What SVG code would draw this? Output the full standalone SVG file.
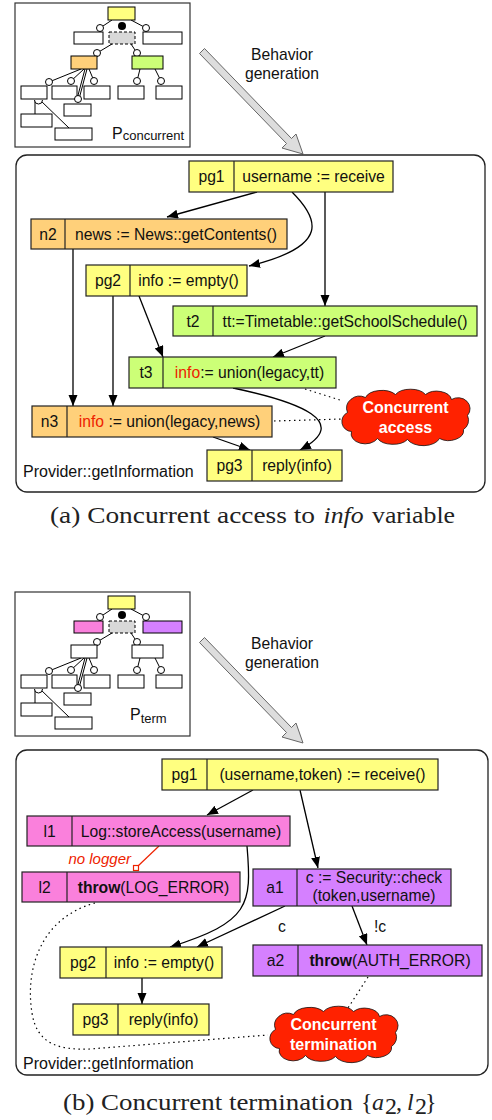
<svg xmlns="http://www.w3.org/2000/svg" xmlns:xlink="http://www.w3.org/1999/xlink" width="492" height="1120" viewBox="0 0 492 1120">
<style>
.t{font-family:"Liberation Sans",Arial,sans-serif;font-size:15.7px;fill:#111;text-anchor:middle}
.lbl{font-family:"Liberation Sans",Arial,sans-serif;font-size:16px;fill:#111}
.cap{font-family:"Liberation Serif","Times New Roman",serif;font-size:24px;fill:#222}
.nb{stroke:#222;stroke-width:1.2}
.y{fill:#ffff80}.o{fill:#ffd07a}.g{fill:#ccff77}.p{fill:#fa80dc}.v{fill:#d580ff}
.e{stroke:#000;stroke-width:1.3;fill:none}
.d{stroke:#000;stroke-width:1.2;fill:none;stroke-dasharray:1.5 3.5}
.tl{stroke:#000;stroke-width:1;fill:none}
.tb{fill:#fff;stroke:#000;stroke-width:1}
.tc{fill:#fff;stroke:#000;stroke-width:1}
.cw{font-family:"Liberation Sans",Arial,sans-serif;font-size:16px;font-weight:bold;fill:#fff;text-anchor:middle}
.red{fill:#ee2200}
</style>
<defs>
<marker id="ah" markerUnits="userSpaceOnUse" markerWidth="12" markerHeight="10" refX="11" refY="4.5" orient="auto">
<path d="M0,0 L11,4.5 L0,9 z" fill="#000"/>
</marker>
<path id="cloud" d="M-58,-4 A13,12 0 0 1 -40,-19 A17,10 0 0 1 -10,-22 A17,10 0 0 1 20,-22 A15,10 0 0 1 46,-17 A12,11 0 0 1 62,-1 A11,11 0 0 1 58,13 A15,10 0 0 1 34,22 A17,10 0 0 1 2,23 A17,10 0 0 1 -28,22 A14,10 0 0 1 -54,15 A10,10 0 0 1 -58,-4 Z" fill="#ff2200" stroke="#111" stroke-width="0.8"/>
<path id="bigArrow" d="M204.5,48.5 L291.5,138.5 L296,134 L303,154 L282,148 L286.5,143.5 L199.5,53.5 Z" fill="#dddddd" stroke="#666" stroke-width="1"/>
<g id="treeBase">
<rect x="15" y="3" width="175" height="144" fill="#fff" stroke="#333" stroke-width="1.2"/>
<line class="tl" x1="112" y1="20" x2="100" y2="28"/>
<line class="tl" x1="131" y1="20" x2="146" y2="28"/>
<rect x="108" y="7" width="27" height="13" class="y" stroke="#000" stroke-width="1"/>
<rect x="109" y="32" width="26" height="12" fill="#d8d8d8" stroke="#000" stroke-width="1" stroke-dasharray="3 2"/>
<line class="tl" x1="112" y1="44" x2="97" y2="53"/>
<line class="tl" x1="131" y1="44" x2="137" y2="53"/>
<line class="tl" x1="81" y1="69" x2="49" y2="82"/>
<line class="tl" x1="84" y1="69" x2="71" y2="81"/>
<line class="tl" x1="85" y1="69" x2="77" y2="99"/>
<line class="tl" x1="87" y1="69" x2="79" y2="99"/>
<line class="tl" x1="89" y1="69" x2="94" y2="81"/>
<line class="tl" x1="140" y1="69" x2="137" y2="81"/>
<line class="tl" x1="155" y1="69" x2="161" y2="81"/>
<line class="tl" x1="35" y1="100" x2="35" y2="114"/>
<line class="tl" x1="40" y1="100" x2="69" y2="128"/>
<rect class="tb" x="21" y="86" width="26" height="13"/>
<rect class="tb" x="52" y="86" width="25" height="13"/>
<rect class="tb" x="84" y="86" width="26" height="13"/>
<rect class="tb" x="118" y="86" width="26" height="13"/>
<rect class="tb" x="156" y="86" width="26" height="13"/>
<rect class="tb" x="64" y="104" width="27" height="12"/>
<rect class="tb" x="21" y="114" width="31" height="13"/>
<rect class="tb" x="55" y="128" width="37" height="12"/>
<circle class="tc" cx="100" cy="28" r="3.5"/>
<circle class="tc" cx="146" cy="28" r="3.5"/>
<circle cx="122" cy="26" r="4" fill="#000"/>
<circle class="tc" cx="97" cy="53" r="3.5"/>
<circle class="tc" cx="137" cy="53" r="3.5"/>
<circle class="tc" cx="49" cy="82" r="3.5"/>
<circle class="tc" cx="71" cy="81" r="3.5"/>
<circle class="tc" cx="94" cy="81" r="3.5"/>
<circle class="tc" cx="137" cy="81" r="3.5"/>
<circle class="tc" cx="161" cy="81" r="3.5"/>
<circle class="tc" cx="78" cy="99" r="3.5"/>
<path d="M34.5,100 A4,4 0 0 0 42.5,100" class="tb"/>
</g>
</defs>

<!-- ===== Panel (a) ===== -->
<g id="treeA">
<use xlink:href="#treeBase"/>
<rect x="74" y="32" width="29" height="12" fill="#fff" stroke="#000"/>
<rect x="143" y="32" width="39" height="12" fill="#fff" stroke="#000"/>
<rect x="71" y="56" width="26" height="13" class="o" stroke="#000"/>
<rect x="132" y="56" width="31" height="13" class="g" stroke="#000"/>
<text x="112" y="139" class="lbl">P<tspan font-size="13" dy="1">concurrent</tspan></text>
</g>
<g id="arrowA">
<use xlink:href="#bigArrow"/>
<text x="282" y="60" class="t">Behavior</text>
<text x="282" y="79" class="t">generation</text>
</g>
<rect x="16" y="155" width="469" height="337" rx="11" fill="none" stroke="#222" stroke-width="1.3"/>
<text x="23" y="477" class="lbl">Provider::getInformation</text>

<g id="connA">
<path class="e" d="M257,192 L167,217" marker-end="url(#ah)"/>
<path class="e" d="M292,192 C318,218 332,246 249,266" marker-end="url(#ah)"/>
<path class="e" d="M325,192 L325,306" marker-end="url(#ah)"/>
<path class="e" d="M139,296 L163,357" marker-end="url(#ah)"/>
<path class="e" d="M325,336 L273,357" marker-end="url(#ah)"/>
<path class="e" d="M73,249 L73,406" marker-end="url(#ah)"/>
<path class="e" d="M113,296 L113,406" marker-end="url(#ah)"/>
<path class="e" d="M213,437 L250,450" marker-end="url(#ah)"/>
<path class="e" d="M233,388 C300,402 352,422 300,450" marker-end="url(#ah)"/>
<path class="d" d="M305,389 L343,401"/>
<path class="d" d="M274,421 L343,419"/>
</g>

<g id="pg1a"><rect x="189" y="161" width="204" height="31" class="y nb"/><line x1="234" y1="161" x2="234" y2="192" class="nb"/>
<text x="211.5" y="182" class="t">pg1</text><text x="313.5" y="182" class="t">username := receive</text></g>
<g id="n2a"><rect x="31" y="219" width="256" height="30" class="o nb"/><line x1="65" y1="219" x2="65" y2="249" class="nb"/>
<text x="48" y="239.5" class="t">n2</text><text x="176" y="239.5" class="t">news := News::getContents()</text></g>
<g id="pg2a"><rect x="86" y="265" width="161" height="31" class="y nb"/><line x1="130" y1="265" x2="130" y2="296" class="nb"/>
<text x="108" y="286" class="t">pg2</text><text x="188.5" y="286" class="t">info := empty()</text></g>
<g id="t2a"><rect x="173" y="306" width="304" height="30" class="g nb"/><line x1="213" y1="306" x2="213" y2="336" class="nb"/>
<text x="193" y="326.5" class="t">t2</text><text x="345" y="326.5" class="t">tt:=Timetable::getSchoolSchedule()</text></g>
<g id="t3a"><rect x="129" y="357" width="207" height="31" class="g nb"/><line x1="163" y1="357" x2="163" y2="388" class="nb"/>
<text x="146" y="378" class="t">t3</text><text x="249.5" y="378" class="t"><tspan class="red">info</tspan>:= union(legacy,tt)</text></g>
<g id="n3a"><rect x="32" y="406" width="240" height="31" class="o nb"/><line x1="67" y1="406" x2="67" y2="437" class="nb"/>
<text x="49.5" y="427" class="t">n3</text><text x="169.5" y="427" class="t"><tspan class="red">info</tspan> := union(legacy,news)</text></g>
<g id="pg3a"><rect x="207" y="450" width="135" height="31" class="y nb"/><line x1="252" y1="450" x2="252" y2="481" class="nb"/>
<text x="229.5" y="471" class="t">pg3</text><text x="297" y="471" class="t">reply(info)</text></g>
<g id="cloudA"><use xlink:href="#cloud" transform="translate(405.5,416.5)"/>
<text x="405.5" y="413" class="cw">Concurrent</text><text x="405.5" y="433" class="cw">access</text></g>

<g id="captionA">
<text x="50" y="523" class="cap" textLength="265" lengthAdjust="spacingAndGlyphs">(a) Concurrent access to</text>
<text x="323.5" y="523" class="cap" font-style="italic" textLength="40" lengthAdjust="spacingAndGlyphs">info</text>
<text x="372" y="523" class="cap" textLength="83" lengthAdjust="spacingAndGlyphs">variable</text>
</g>

<!-- ===== Panel (b) ===== -->
<g id="treeB" transform="translate(0,589)">
<use xlink:href="#treeBase"/>
<rect x="74" y="32" width="29" height="12" class="p" stroke="#000"/>
<rect x="143" y="32" width="39" height="12" class="v" stroke="#000"/>
<rect x="71" y="56" width="26" height="13" fill="#fff" stroke="#000"/>
<rect x="132" y="56" width="31" height="13" fill="#fff" stroke="#000"/>
<text x="130" y="131" class="lbl">P<tspan font-size="13" dy="3">term</tspan></text>
</g>
<g id="arrowB" transform="translate(0,589)">
<use xlink:href="#bigArrow"/>
<text x="282" y="60" class="t">Behavior</text>
<text x="282" y="79" class="t">generation</text>
</g>
<rect x="16" y="750" width="472" height="325" rx="11" fill="none" stroke="#222" stroke-width="1.3"/>
<text x="23" y="1069" class="lbl">Provider::getInformation</text>

<g id="connB">
<path class="e" d="M253,790 L207,815" marker-end="url(#ah)"/>
<path class="e" d="M300,790 L318,868" marker-end="url(#ah)"/>
<path class="e" d="M247,846 C252,905 250,922 170,947" marker-end="url(#ah)"/>
<path class="e" d="M285,906 L197,947" marker-end="url(#ah)"/>
<path class="e" d="M352,906 L367,945" marker-end="url(#ah)"/>
<path class="e" d="M142,978 L142,1004" marker-end="url(#ah)"/>
<path class="d" d="M95,903 C40,918 25,970 32,1013 C37,1045 60,1050 90,1049 L268,1035"/>
<path class="d" d="M368,977 L348,1008"/>
<path d="M159,846 L138,866" stroke="#ee2200" stroke-width="1.2" fill="none"/>
<rect x="133.5" y="865.5" width="5" height="5" fill="#fff" stroke="#ee2200" stroke-width="1.2"/>
<text x="131" y="864" font-family="'Liberation Sans',Arial,sans-serif" font-size="15" font-style="italic" fill="#ee2200" text-anchor="end">no logger</text>
<text x="282" y="932" class="t">c</text>
<text x="380" y="932" class="t">!c</text>
</g>

<g id="pg1b"><rect x="162" y="759" width="276" height="31" class="y nb"/><line x1="207" y1="759" x2="207" y2="790" class="nb"/>
<text x="184.5" y="780" class="t">pg1</text><text x="322.5" y="780" class="t">(username,token) := receive()</text></g>
<g id="l1b"><rect x="27" y="816" width="263" height="30" class="p nb"/><line x1="72" y1="816" x2="72" y2="846" class="nb"/>
<text x="49.5" y="836.5" class="t">l1</text><text x="181" y="836.5" class="t">Log::storeAccess(username)</text></g>
<g id="l2b"><rect x="22" y="872" width="218" height="30" class="p nb"/><line x1="67" y1="872" x2="67" y2="902" class="nb"/>
<text x="44.5" y="892.5" class="t">l2</text><text x="153.5" y="892.5" class="t"><tspan font-weight="bold">throw</tspan>(LOG_ERROR)</text></g>
<g id="a1b"><rect x="253" y="869" width="198" height="37" class="v nb"/><line x1="297" y1="869" x2="297" y2="906" class="nb"/>
<text x="275" y="893" class="t">a1</text><text x="374" y="883" class="t">c := Security::check</text><text x="374" y="901" class="t">(token,username)</text></g>
<g id="pg2b"><rect x="60" y="947" width="162" height="31" class="y nb"/><line x1="106" y1="947" x2="106" y2="978" class="nb"/>
<text x="83" y="968" class="t">pg2</text><text x="164" y="968" class="t">info := empty()</text></g>
<g id="pg3b"><rect x="73" y="1004" width="136" height="31" class="y nb"/><line x1="118" y1="1004" x2="118" y2="1035" class="nb"/>
<text x="95.5" y="1025" class="t">pg3</text><text x="163.5" y="1025" class="t">reply(info)</text></g>
<g id="a2b"><rect x="253" y="945" width="229" height="31" class="v nb"/><line x1="298" y1="945" x2="298" y2="976" class="nb"/>
<text x="275.5" y="966" class="t">a2</text><text x="390" y="966" class="t"><tspan font-weight="bold">throw</tspan>(AUTH_ERROR)</text></g>
<g id="cloudB"><use xlink:href="#cloud" transform="translate(333.5,1033.5)"/>
<text x="333.5" y="1030" class="cw">Concurrent</text><text x="333.5" y="1050" class="cw">termination</text></g>

<g id="captionB">
<text x="63" y="1110" class="cap" textLength="290" lengthAdjust="spacingAndGlyphs">(b) Concurrent termination</text>
<text x="361" y="1110" class="cap">{</text>
<text x="372" y="1110" class="cap" font-style="italic">a</text>
<text x="385" y="1114" class="cap" font-size="15">2</text>
<text x="396" y="1110" class="cap">,</text>
<text x="407" y="1110" class="cap" font-style="italic">l</text>
<text x="415" y="1114" class="cap" font-size="15">2</text>
<text x="425" y="1110" class="cap">}</text>
</g>
</svg>
